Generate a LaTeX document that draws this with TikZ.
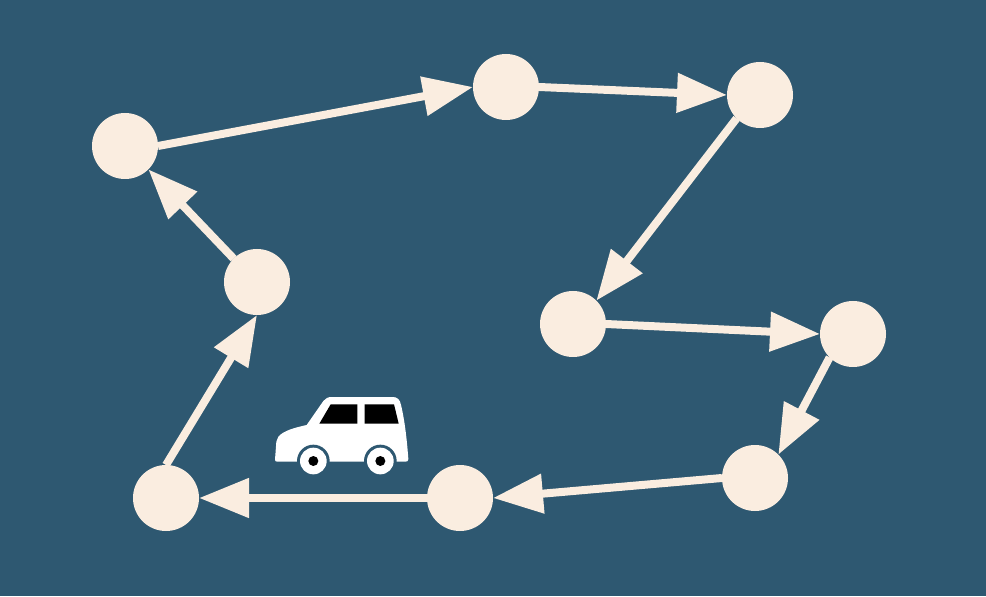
\documentclass[tikz,border=0pt]{standalone}
\usepackage{tikz}
\usetikzlibrary{arrows.meta}
\definecolor{bgblue}{HTML}{2E5871}
\definecolor{cream}{HTML}{FAEDE0}
\tikzset{
	stop/.style={circle,fill=cream,minimum size=1.32cm,inner sep=0pt,outer sep=0pt},
	route/.style={draw=cream,line width=0.16cm,-{Triangle[length=1cm,width=0.76cm,fill=cream]}}
}

\begin{document}
\begin{tikzpicture}
	
	\fill[bgblue] (0,0) rectangle (19.72,11.92);
	\useasboundingbox (0,0) rectangle (19.72,11.92);
	
	\node[stop] (a) at (2.5,9) {};
	
	\node[stop] (b) at (10.12,10.18) {};
	
	\node[stop] (c) at (15.2,10.02) {};
	
	\node[stop] (d) at (11.46,5.44) {};
	
	\node[stop] (e) at (17.06,5.24) {};
	
	\node[stop] (f) at (15.1,2.36) {};
	
	\node[stop] (g) at (9.2,1.96) {};
	
	\node[stop] (h) at (3.32,1.96) {};
	
	\node[stop] (i) at (5.14,6.28) {};
	
	\draw[route] (a.east) -- (b.west);
	\draw[route] (b.east) -- (c.west);
	\draw[route] (c.south west) -- (d.north east);
	\draw[route] (d.east) -- (e.west);
	\draw[route] (e.south west) -- (f.north east);
	\draw[route] (f.west) -- (g.east);
	\draw[route] (g.west) -- (h.east);
	\draw[route] (h.north) -- (i.south);
	\draw[route] (i.north west) -- (a.south east);
	
	% car
	\begin{scope}[shift={(5.2,4.22)},x=0.00667cm,y=-0.00667cm]
		\fill[white] (45,224) -- (49,170) .. controls (52,150) and (70,135) .. (140,120)
			-- (190,48) .. controls (196,40) and (204,36) .. (215,36)
			-- (398,36) .. controls (412,36) and (420,44) .. (423,60)
			.. controls (435,110) and (441,170) .. (445,222)
			.. controls (445,228) and (442,230) .. (436,230) -- (52,230)
			.. controls (47,230) and (45,228) .. (45,224) -- cycle;
		\fill[black] (212,58) -- (292,58) -- (292,116) -- (178,116) -- cycle;
		\fill[black] (314,58) -- (402,58) -- (416,116) -- (314,116) -- cycle;
		\foreach \wx in {160,361} {
			\fill[bgblue] (\wx,228) circle (49);
			\fill[white] (\wx,228) circle (40);
			\fill[black] (\wx,228) circle (15);
		}
	\end{scope}
	
\end{tikzpicture}
\end{document}
